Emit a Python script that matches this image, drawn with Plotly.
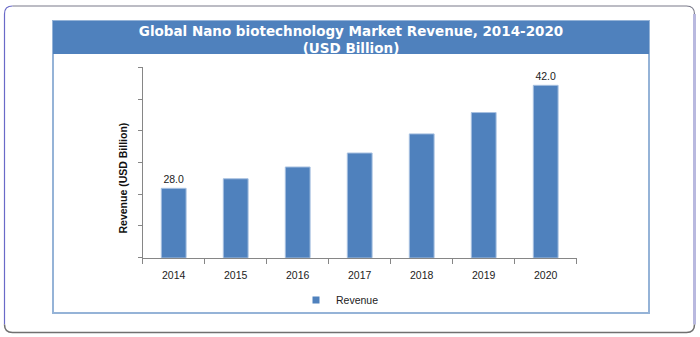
import plotly.graph_objects as go

years = ["2014", "2015", "2016", "2017", "2018", "2019", "2020"]
revenue = [28.0, 29.3, 30.9, 32.8, 35.4, 38.3, 42.0]
labels = ["28.0", "", "", "", "", "", "42.0"]
series_name = "Revenue"
title_text = "Global Nano biotechnology Market Revenue, 2014-2020<br>(USD Billion)"
y_title = "Revenue (USD Billion)"

W, H = 700, 337
Y_MIN, Y_MAX = 18.57, 44.45
BLUE = "#4f81bd"


def px(x):
    return x / W


def py(y):
    return 1 - y / H


fig = go.Figure()
fig.add_trace(go.Bar(
    x=years, y=revenue, text=labels, textposition="outside",
    textfont=dict(family="Liberation Sans", size=10.5, color="#222222"),
    marker=dict(color=BLUE, line=dict(color="#a7c0e0", width=1)),
    width=0.4, showlegend=False, cliponaxis=False,
))
fig.add_trace(go.Scatter(
    x=[None], y=[None], mode="markers", name=series_name,
    marker=dict(symbol="square", size=7, color=BLUE),
))

shapes = []
# outer rounded frame (4 edges)
L, T, R, B, r = 4.5, 6, 694.5, 332.5, 8
def seg(path, color, width):
    shapes.append(dict(type="path", path=path, xref="paper", yref="paper",
                       line=dict(color=color, width=width), layer="above"))

seg(f"M {px(L)},{py(B - r)} L {px(L)},{py(T + r)} Q {px(L)},{py(T)} {px(L + r)},{py(T)}", "#6a6ac8", 1.2)
seg(f"M {px(L + r)},{py(T)} L {px(R - r)},{py(T)} Q {px(R)},{py(T)} {px(R)},{py(T + r)}", "#7a7a8a", 1.2)
seg(f"M {px(R)},{py(T + r)} L {px(R)},{py(B - r)}", "#b9b9df", 3)
seg(f"M {px(L)},{py(B - r)} Q {px(L)},{py(B)} {px(L + r)},{py(B)} L {px(R - r)},{py(B)} Q {px(R)},{py(B)} {px(R)},{py(B - r)}", "#707070", 1.5)

# inner box and title band
shapes.append(dict(type="rect", xref="paper", yref="paper",
                   x0=px(53), x1=px(649), y0=py(313), y1=py(21),
                   line=dict(color="#95b3d7", width=2), fillcolor="rgba(0,0,0,0)", layer="below"))
shapes.append(dict(type="rect", xref="paper", yref="paper",
                   x0=px(53), x1=px(649), y0=py(54), y1=py(21),
                   line=dict(width=0), fillcolor=BLUE, layer="below"))

fig.update_layout(
    width=W, height=H,
    margin=dict(l=0, r=0, t=0, b=0),
    paper_bgcolor="white", plot_bgcolor="white",
    shapes=shapes,
    title=dict(text=title_text, x=px(351), xanchor="center", y=py(35.5), yanchor="middle",
               font=dict(family="DejaVu Sans", size=13.5, color="white", weight="bold")),
    annotations=[dict(text=y_title, textangle=-90, xref="paper", yref="paper",
                      x=px(122.5), y=py(178), xanchor="center", yanchor="middle", showarrow=False,
                      font=dict(family="Liberation Sans", size=10.5, color="#111111", weight="bold"))],
    xaxis=dict(domain=[px(142.7), px(576.7)], showline=True, linecolor="#868686", linewidth=1,
               ticks="outside", tickson="boundaries", ticklen=5, tickcolor="#868686",
               ticklabelstandoff=8,
               tickfont=dict(family="Liberation Sans", size=10.5, color="#222222"),
               showgrid=False, zeroline=False, fixedrange=True),
    yaxis=dict(domain=[py(257.7), py(67.3)], range=[Y_MIN, Y_MAX],
               tick0=Y_MIN, dtick=(Y_MAX - Y_MIN) / 6,
               showline=True, linecolor="#868686", linewidth=1,
               ticks="outside", ticklen=4, tickcolor="#868686", showticklabels=False,
               showgrid=False, zeroline=False),
    legend=dict(orientation="h", x=px(296), xanchor="left", y=py(300), yanchor="middle",
                font=dict(family="Liberation Sans", size=10.5, color="#222222"),
                bgcolor="rgba(0,0,0,0)"),
    bargap=0.6,
)

fig.write_html("out.html")
